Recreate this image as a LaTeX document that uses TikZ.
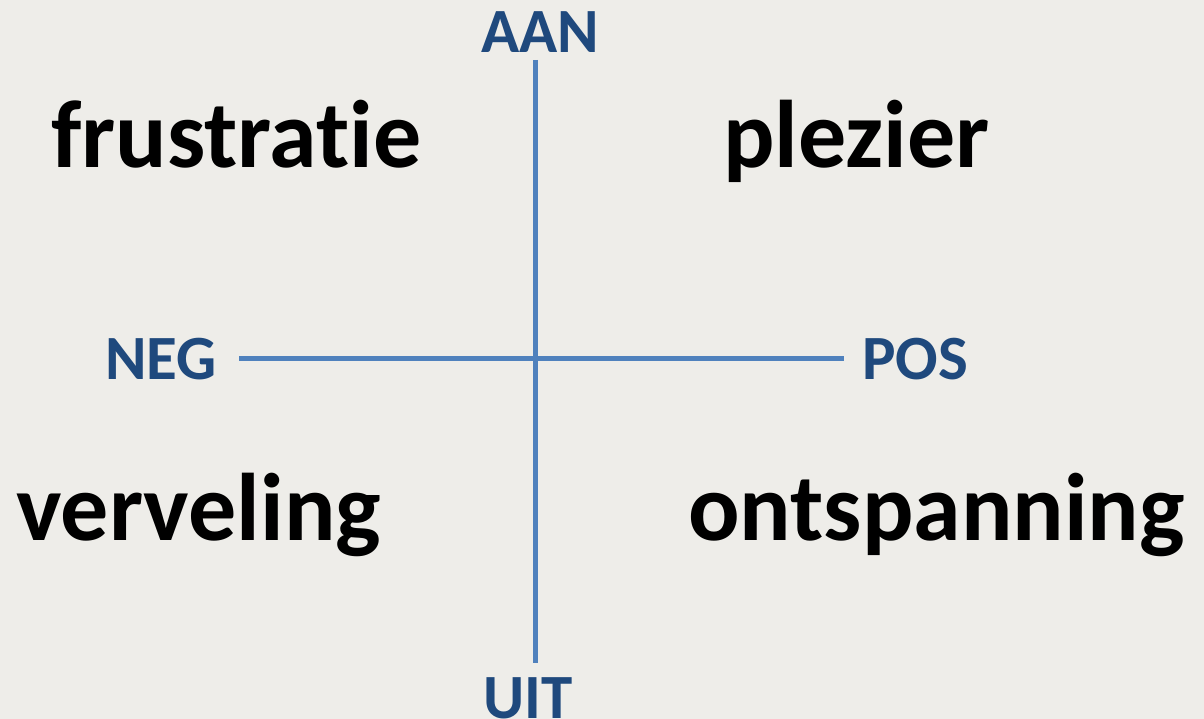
\documentclass[tikz,border=0pt]{standalone}
\usepackage{fontspec}
\setmainfont[Ligatures=NoCommon]{Carlito}
\definecolor{bg}{HTML}{EEEDE9}
\definecolor{axisline}{HTML}{4F81BD}
\definecolor{axislabel}{HTML}{1F497D}
\tikzset{
  axislbl/.style={text=axislabel, font=\fontsize{63}{63}\selectfont\bfseries, inner sep=0pt, anchor=base west},
  word/.style={text=black, font=\fontsize{96}{96}\selectfont\bfseries, inner sep=0pt, anchor=base west},
  axis/.style={draw=axisline, line width=4.5pt}
}
\begin{document}
\begin{tikzpicture}[x=1pt,y=-1pt]
\fill[bg] (0,0) rectangle (1204,719);
\useasboundingbox (0,0) rectangle (1204,719);
\coordinate (vtop) at (535.5,60);
\coordinate (vbot) at (535.5,663);
\coordinate (hleft) at (239,358.5);
\coordinate (hright) at (844,358.5);
\draw[axis] (vtop) -- (vbot);
\draw[axis] (hleft) -- (hright);
\node[axislbl] (aan) at (481,53) {AAN};
\node[axislbl] (uit) at (483,718) {UIT};
\node[axislbl] (neg) at (105,379) {NEG};
\node[axislbl] (pos) at (862,379) {POS};
\node[word] (frus) at (51,168) {frustratie};
\node[word] (plez) at (723,168) {plezier};
\node[word] (verv) at (16,540) {verveling};
\node[word] (ont) at (688,540) {ontspanning};
\end{tikzpicture}
\end{document}
